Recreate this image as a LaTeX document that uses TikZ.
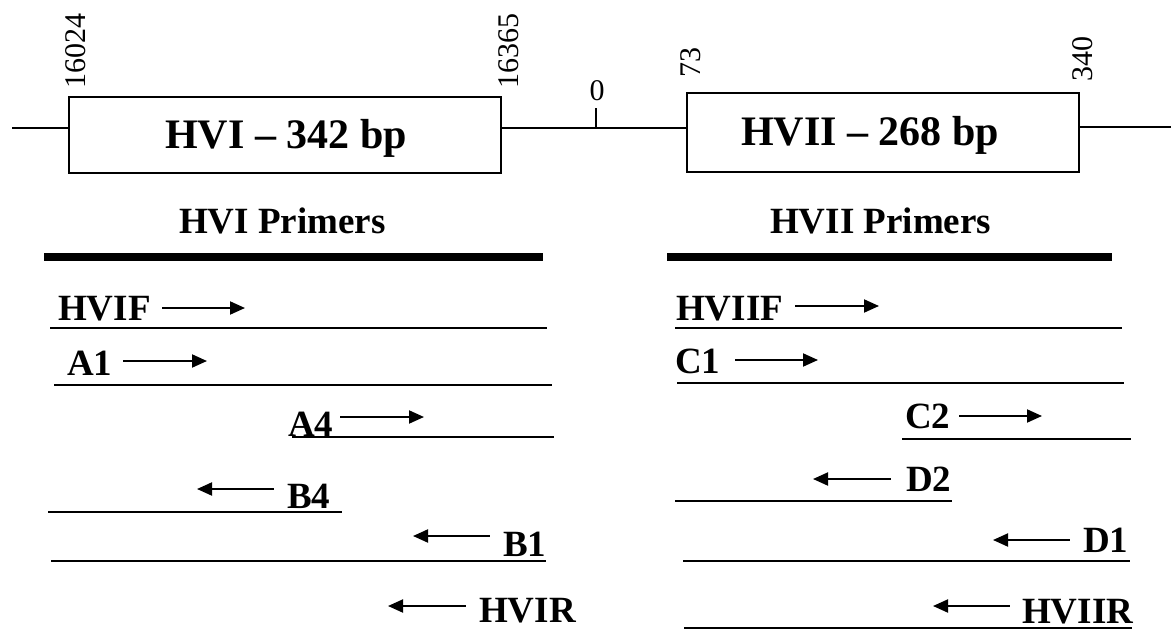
\documentclass[tikz,border=0pt]{standalone}
\usepackage{fontspec}
\setmainfont{Liberation Serif}
\usetikzlibrary{arrows.meta}

\begin{document}
\begin{tikzpicture}[x=1pt, y=-1pt, inner sep=0pt,
  region/.style={draw, line width=1.8pt},
  boxlabel/.style={font=\fontsize{42}{48}\selectfont\bfseries, anchor=base},
  coordlabel/.style={font=\fontsize{30}{36}\selectfont, rotate=90, anchor=base west},
  sectitle/.style={font=\fontsize{37}{44}\selectfont\bfseries, anchor=base west},
  primer/.style={font=\fontsize{37}{44}\selectfont\bfseries, anchor=base west},
  axis/.style={line width=1.5pt},
  amplicon/.style={line width=2pt},
  sepline/.style={line width=8pt},
  fwd/.style={-{Triangle[length=15pt,width=13pt]}, line width=2pt},
  rev/.style={{Triangle[length=15pt,width=13pt]}-, line width=2pt}]
  \useasboundingbox (0,0) rectangle (1171,629);

  % mtDNA control region
  \draw[axis] (12,128) -- (69,128);
  \draw[axis] (501,128) -- (687,128);
  \draw[axis] (1079,127) -- (1171,127);
  \draw[axis] (596,108) -- (596,128);
  \draw[region] (69,97) rectangle (501,173);
  \draw[region] (687,93) rectangle (1079,172);
  \node[boxlabel] (hv1) at (286,148) {HVI -- 342 bp};
  \node[boxlabel] (hv2) at (870,145) {HVII -- 268 bp};

  % positions
  \node[coordlabel] (p16024) at (85,89) {16024};
  \node[coordlabel] (p16365) at (518,89) {16365};
  \node[coordlabel] (p73) at (700,78) {73};
  \node[coordlabel] (p340) at (1092,82) {340};
  \node[font=\fontsize{30}{36}\selectfont, anchor=base] (p0) at (597,100) {0};

  % section titles
  \node[sectitle] (hv1title) at (179,233) {HVI Primers};
  \node[sectitle] (hv2title) at (770,233) {HVII Primers};
  \draw[sepline] (44,257) -- (543,257);
  \draw[sepline] (667,257) -- (1112,257);

  % HVI primers
  \node[primer] (hvif) at (58,320) {HVIF};
  \draw[fwd] (162,308) -- (245,308);
  \draw[amplicon] (50,328) -- (547,328);

  \node[primer] (a1) at (67,375) {A1};
  \draw[fwd] (123,361) -- (207,361);
  \draw[amplicon] (54,385) -- (552,385);

  \node[primer] (a4) at (288,436) {A4};
  \draw[fwd] (340,417) -- (424,417);
  \draw[amplicon] (292,437) -- (554,437);

  \node[primer] (b4) at (287,508) {B4};
  \draw[rev] (197,489) -- (274,489);
  \draw[amplicon] (48,512) -- (342,512);

  \node[primer] (b1) at (503,556) {B1};
  \draw[rev] (413,536) -- (490,536);
  \draw[amplicon] (51,561) -- (546,561);

  \node[primer] (hvir) at (479,622) {HVIR};
  \draw[rev] (388,606) -- (466,606);

  % HVII primers
  \node[primer] (hviif) at (676,320) {HVIIF};
  \draw[fwd] (795,306) -- (879,306);
  \draw[amplicon] (675,328) -- (1122,328);

  \node[primer] (c1) at (675,373) {C1};
  \draw[fwd] (735,360) -- (818,360);
  \draw[amplicon] (677,383) -- (1124,383);

  \node[primer] (c2) at (905,428) {C2};
  \draw[fwd] (959,416) -- (1042,416);
  \draw[amplicon] (902,439) -- (1131,439);

  \node[primer] (d2) at (906,491) {D2};
  \draw[rev] (813,479) -- (891,479);
  \draw[amplicon] (675,501) -- (952,501);

  \node[primer] (d1) at (1083,552) {D1};
  \draw[rev] (993,540) -- (1070,540);
  \draw[amplicon] (683,561) -- (1130,561);

  \node[primer] (hviir) at (1022,623) {HVIIR};
  \draw[rev] (933,606) -- (1010,606);
  \draw[amplicon] (684,628) -- (1132,628);
\end{tikzpicture}
\end{document}
